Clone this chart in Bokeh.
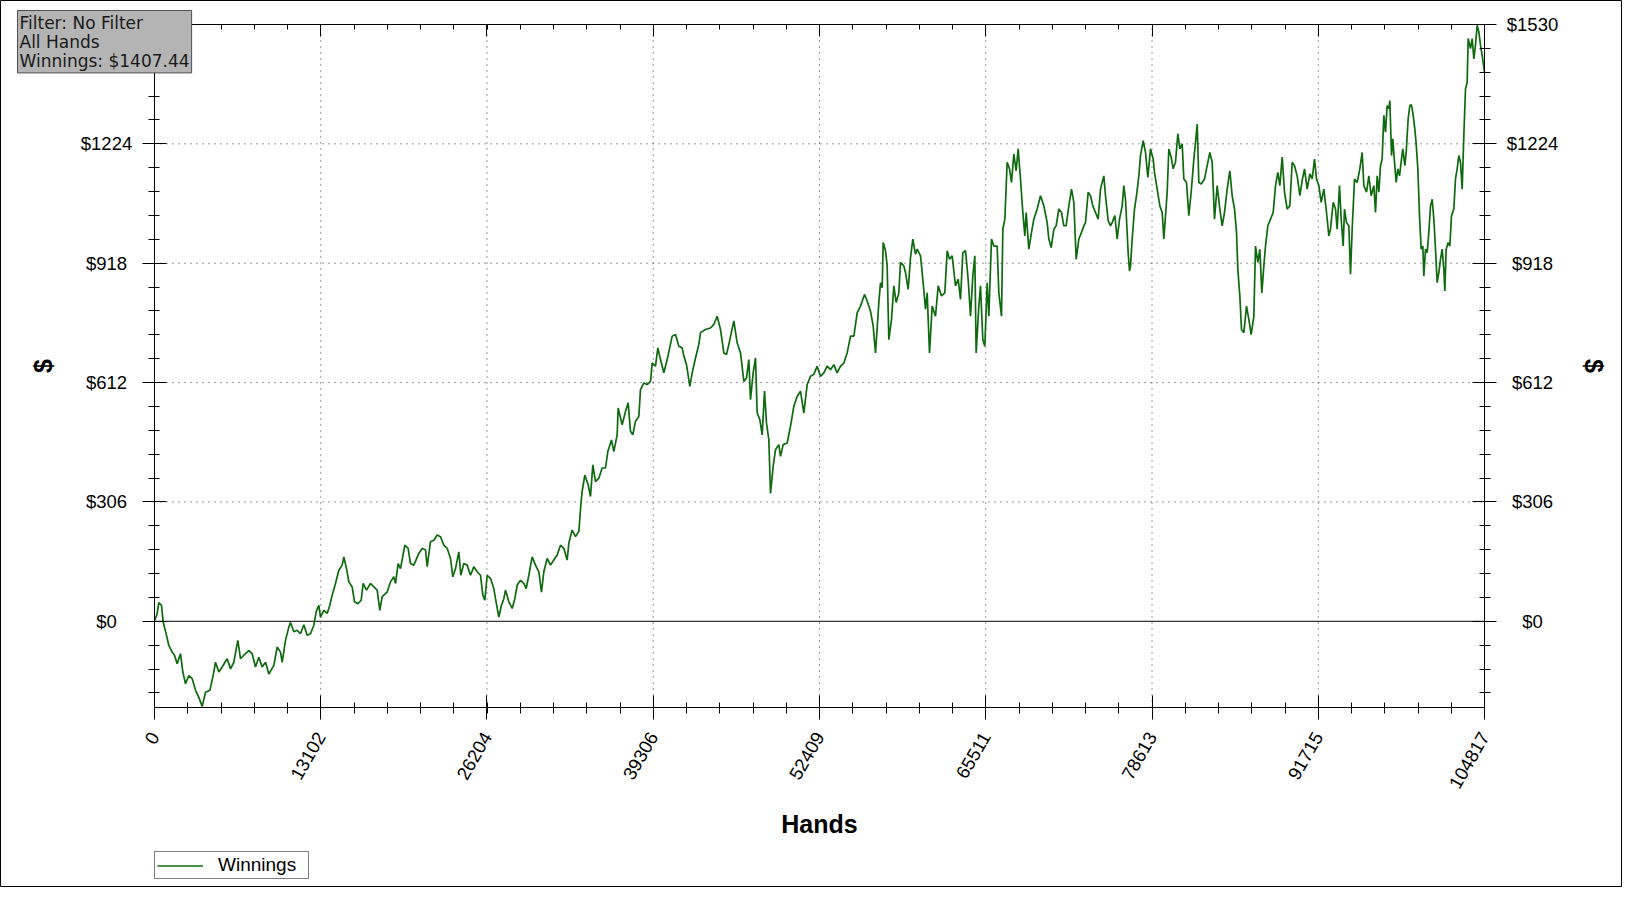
import math
from bokeh.plotting import figure
from bokeh.models import Range1d, LinearAxis, FixedTicker, Label, Legend, LegendItem
from bokeh.embed import file_html
from bokeh.resources import INLINE

# ---------------- data (hands, cumulative winnings $) ----------------
seg1 = [(0, 0), (210, 20), (342, 48), (552, 41), (683, -2), (946, -36), (1130, -62), (1392, -79),
        (1576, -87), (1786, -109), (2049, -83), (2233, -130), (2443, -160), (2706, -139), (2969, -147),
        (3231, -177), (3494, -195), (3757, -218), (4019, -182), (4361, -177), (4624, -139), (4807, -105),
        (5070, -130), (5333, -117), (5727, -96), (5990, -122), (6252, -105), (6568, -49), (6778, -96),
        (7040, -87), (7434, -75), (7697, -83), (7960, -117), (8223, -92), (8485, -117), (8748, -105),
        (9011, -135), (9405, -113), (9667, -66), (9930, -79), (10061, -105), (10324, -49), (10587, -15),
        (10718, -3), (10981, -27), (11244, -23), (11506, -32), (11769, -9), (12032, -36), (12294, -32),
        (12557, -10), (12741, 24), (12951, 41), (13082, 11), (13345, 28), (13608, 20), (13818, 41),
        (14002, 67), (14265, 97), (14527, 131), (14790, 144), (14921, 165), (15132, 135), (15316, 101),
        (15578, 88), (15762, 50), (16025, 45), (16287, 54), (16445, 97), (16708, 80), (17023, 97),
        (17286, 88), (17548, 80), (17759, 28), (17943, 63), (18337, 75), (18599, 101), (18862, 114)]
seg2 = [(18993, 97), (19203, 148), (19387, 135), (19729, 195), (19991, 187), (20175, 148), (20438, 144),
        (20832, 174), (21095, 187), (21357, 183), (21489, 140), (21751, 204), (22014, 208), (22277, 221),
        (22539, 217), (22802, 195), (23065, 187), (23328, 161), (23511, 114), (23722, 135), (23984, 178),
        (24142, 118), (24378, 148), (24641, 144), (24904, 118), (25166, 140), (25429, 127), (25692, 118),
        (25876, 67), (26033, 54), (26217, 118), (26480, 110), (26743, 84), (26874, 58), (27137, 11),
        (27347, 41), (27531, 58), (27662, 80), (27925, 50), (28188, 33), (28398, 58), (28582, 93),
        (28844, 105), (29107, 97), (29291, 84), (29501, 118), (29764, 165), (30027, 144), (30289, 127),
        (30499, 75), (30683, 127), (30946, 161), (31209, 144), (31471, 157), (31734, 170), (31997, 195),
        (32259, 187), (32522, 157), (32653, 200), (32916, 234), (33179, 217), (33442, 230), (33599, 298),
        (33704, 333), (33914, 375), (34177, 350), (34361, 320), (34545, 401), (34755, 358), (35018, 367),
        (35280, 393), (35543, 393), (35727, 435), (36016, 465), (36199, 435), (36462, 478), (36541, 547),
        (36856, 504), (37119, 538), (37329, 560), (37513, 487), (37697, 478), (37907, 513), (38170, 525)]
seg3 = [(38302, 594), (38565, 611), (38827, 607), (39090, 615), (39221, 662), (39484, 654), (39668, 701),
        (39878, 671), (40141, 637), (40404, 671), (40798, 731), (41060, 735), (41323, 705), (41586, 701),
        (41717, 680), (41927, 658), (42190, 602), (42374, 637), (42637, 675), (42899, 710), (43031, 740),
        (43425, 748), (43819, 752), (44081, 761), (44344, 782), (44607, 748), (44870, 688), (45080, 684),
        (45264, 710), (45658, 770), (45920, 714), (46183, 688), (46446, 615), (46656, 624), (46840, 671),
        (46971, 568), (47181, 637), (47365, 675), (47497, 534), (47707, 517), (47891, 478), (48075, 590),
        (48232, 508), (48416, 465), (48547, 328), (48757, 397), (48941, 440), (49204, 453), (49335, 423),
        (49545, 453), (49861, 457), (50124, 500), (50386, 551), (50649, 577), (50912, 590), (51174, 534),
        (51437, 607), (51700, 628), (51962, 633), (52225, 654), (52488, 628), (52751, 637), (53013, 654),
        (53276, 645), (53539, 658), (53801, 637), (54064, 654), (54327, 662), (54589, 688), (54852, 731),
        (55115, 731), (55377, 791), (55640, 808), (55955, 838), (56166, 821), (56428, 795), (56638, 757),
        (56822, 688), (57085, 817), (57216, 868), (57348, 855), (57427, 971)]
seg4 = [(57610, 950), (57741, 911), (57873, 722), (58083, 774), (58267, 860), (58451, 817), (58661, 842),
        (58792, 920), (59055, 911), (59186, 894), (59396, 851), (59580, 932), (59764, 980), (59974, 941),
        (60106, 954), (60368, 937), (60552, 877), (60762, 800), (60894, 842), (61078, 688), (61288, 808),
        (61551, 782), (61761, 860), (62023, 834), (62286, 842), (62470, 950), (62654, 928), (62864, 937),
        (63127, 860), (63337, 877), (63521, 825), (63705, 945), (63915, 950), (64125, 877), (64309, 782),
        (64493, 885), (64650, 937), (64755, 688), (64966, 808), (65097, 860), (65281, 722), (65438, 705),
        (65622, 868), (65754, 782), (65964, 980), (66148, 962), (66410, 962), (66542, 842), (66752, 782),
        (66857, 1005), (67015, 1031), (67199, 1177), (67382, 1160), (67540, 1125), (67724, 1198),
        (67908, 1155), (68065, 1211), (68249, 1134), (68433, 1048), (68591, 988), (68696, 1048),
        (68906, 954), (69116, 997), (69300, 1031), (69563, 1057), (69826, 1091), (70088, 1065),
        (70351, 1022), (70482, 980), (70666, 958), (70876, 1005), (71060, 1014), (71270, 1057),
        (71481, 1048), (71664, 1014), (71848, 1014), (72059, 1065), (72269, 1108), (72453, 1074),
        (72637, 928), (72847, 980), (73057, 997), (73241, 1014), (73372, 1022), (73582, 1100),
        (73766, 1091), (73950, 1065), (74160, 1048), (74370, 1031), (74554, 1108), (74817, 1142),
        (74948, 1091), (75158, 1027), (75342, 1014), (75474, 1022), (75684, 1040), (75868, 980),
        (76052, 1031), (76262, 1065), (76393, 1117), (76524, 1082), (76734, 945), (76840, 898)]
seg5 = [(76919, 911), (77050, 980), (77234, 1057), (77392, 1091), (77576, 1142), (77707, 1194),
        (77917, 1232), (78101, 1202), (78285, 1138), (78495, 1211), (78705, 1185), (78810, 1151),
        (79021, 1108), (79231, 1065), (79415, 1048), (79546, 980), (79677, 1040), (79809, 1100),
        (79940, 1211), (80124, 1190), (80282, 1160), (80465, 1177), (80649, 1250), (80807, 1211),
        (80991, 1224), (81122, 1134), (81332, 1125), (81516, 1040), (81700, 1100), (81910, 1185),
        (82042, 1228), (82173, 1275), (82304, 1125), (82488, 1121), (82751, 1134), (82961, 1168),
        (83171, 1202), (83355, 1177), (83539, 1031), (83749, 1117), (83959, 1057), (84143, 1014),
        (84327, 1048), (84537, 1108), (84747, 1155), (84931, 1091), (85115, 1057), (85273, 997),
        (85378, 902), (85535, 834), (85667, 748), (85851, 740), (86061, 808), (86245, 774), (86429, 735),
        (86639, 782), (86770, 962), (86954, 920), (87112, 954), (87269, 842), (87427, 911), (87558, 962),
        (87742, 1014), (87953, 1031), (88163, 1048), (88347, 1117), (88530, 1151), (88688, 1117),
        (88872, 1190), (89056, 1100), (89266, 1057), (89476, 1065), (89660, 1177), (89844, 1168),
        (90054, 1142), (90265, 1091), (90449, 1130), (90632, 1160), (90843, 1108), (91053, 1147),
        (91237, 1134), (91421, 1185), (91578, 1134), (91762, 1117), (91946, 1074), (92156, 1108),
        (92366, 1048), (92550, 988), (92681, 1005), (92891, 1074), (93075, 1057), (93206, 1005),
        (93390, 1117), (93522, 1031), (93679, 962), (93784, 1057), (93942, 1022), (94126, 1014),
        (94257, 890), (94388, 1005), (94572, 1134), (94782, 1125), (94993, 1160), (95177, 1202),
        (95308, 1117), (95518, 1100), (95703, 1142), (95886, 1091), (96097, 1117)]
seg6 = [(96227, 1048), (96358, 1142), (96490, 1100), (96621, 1168), (96752, 1185), (96884, 1297),
        (97015, 1254), (97146, 1322), (97278, 1314), (97357, 1335), (97488, 1194), (97593, 1237),
        (97724, 1177), (97856, 1125), (97987, 1160), (98118, 1142), (98276, 1185), (98381, 1211),
        (98539, 1168), (98644, 1202), (98801, 1288), (98933, 1322), (99064, 1324), (99196, 1297),
        (99327, 1262), (99432, 1224), (99563, 1160), (99695, 1040), (99826, 954), (99957, 962),
        (100036, 885), (100168, 954), (100299, 945), (100430, 997), (100562, 1065), (100693, 1082),
        (100824, 1031), (100956, 954), (101087, 868), (101218, 894), (101350, 928), (101481, 954),
        (101612, 902), (101691, 847), (101796, 954), (101954, 971), (102085, 962), (102217, 1040),
        (102400, 1057), (102532, 1134), (102663, 1160), (102794, 1194), (102926, 1177), (103057, 1108),
        (103188, 1245), (103320, 1365), (103451, 1382), (103530, 1494), (103714, 1468), (103845, 1494),
        (103976, 1442), (104108, 1477), (104239, 1528), (104371, 1511), (104502, 1477), (104633, 1451),
        (104764, 1421), (104817, 1407.44)]

x_ticks = [0, 13102, 26204, 39306, 52409, 65511, 78613, 91715, 104817]
x_tick_labels = ["0", "13102", "26204", "39306", "52409", "65511", "78613", "91715", "104817"]
y_ticks = [0, 306, 612, 918, 1224, 1530]
y_tick_labels = ["$0", "$306", "$612", "$918", "$1224", "$1530"]
info_lines = ["Filter: No Filter", "All Hands", "Winnings: $1407.44"]
series_name = "Winnings"
x_title = "Hands"
y_title = "$"

points = seg1 + seg2 + seg3 + seg4 + seg5 + seg6
hands = [h for h, _ in points]
winnings = [w for _, w in points]

# ---------------- layout constants (canvas pixels) ----------------
W, H = 1622, 887
FL, FR, FT, FB = 154, 1484, 24, 707      # plot area inside the canvas
FONT = "Liberation Sans"
GREEN = "#0f6a0f"
GRID = "#333333"
x_lo, x_hi = 0, 104817
y_lo, y_hi = -221, 1530

sx = (x_hi - x_lo) / (FR - FL)
sy = (y_hi - y_lo) / (FB - FT)
p = figure(width=W, height=H, output_backend="svg", toolbar_location=None,
           x_range=Range1d(x_lo - FL * sx, x_hi + (W - FR) * sx),
           y_range=Range1d(y_lo - (H - FB) * sy, y_hi + FT * sy),
           x_axis_type=None, y_axis_type=None,
           min_border=0, min_border_left=0, min_border_right=0, min_border_top=0, min_border_bottom=0)
p.outline_line_color = "black"
p.outline_line_width = 1
p.background_fill_color = "white"
p.border_fill_color = "white"
p.xgrid.visible = False
p.ygrid.visible = False

# minor tick positions (5 per major)
nx = len(x_ticks) - 1
x_minor = [x_ticks[0] + (x_ticks[-1] - x_ticks[0]) * i / (nx * 5) for i in range(nx * 5 + 1)]
y_step = (y_ticks[1] - y_ticks[0]) / 5
y_minor = []
k = math.ceil(y_lo / y_step)
while k * y_step <= y_hi + 1e-6:
    y_minor.append(k * y_step)
    k += 1


def tick_axis(side, loc, bounds, ticks, t_in, t_out):
    """Axis line + one size of tick marks, no labels."""
    ax = LinearAxis(ticker=FixedTicker(ticks=[], minor_ticks=ticks), fixed_location=loc, bounds=bounds,
                    axis_line_color="black", minor_tick_line_color="black",
                    minor_tick_in=t_in, minor_tick_out=t_out, major_tick_line_color=None)
    p.add_layout(ax, side)


# bottom axis with labels
xb = LinearAxis(ticker=FixedTicker(ticks=x_ticks, minor_ticks=x_minor), fixed_location=y_lo,
                bounds=(x_lo, x_hi),
                major_label_overrides={v: t for v, t in zip(x_ticks, x_tick_labels)},
                major_label_orientation=math.pi / 3, major_label_standoff=14,
                major_label_text_font=FONT, major_label_text_font_size="18.5px",
                major_label_text_color="black", axis_line_color="black",
                major_tick_line_color="black", minor_tick_line_color="black",
                major_tick_in=12, major_tick_out=12, minor_tick_in=5, minor_tick_out=6)
p.add_layout(xb, "below")

tick_axis("above", y_hi, (x_lo, x_hi), x_ticks, 12, 0)
tick_axis("above", y_hi, (x_lo, x_hi), x_minor, 5, 0)
tick_axis("left", x_lo, (y_lo, y_hi), y_ticks, 12, 12)
tick_axis("left", x_lo, (y_lo, y_hi), y_minor, 5, 6)
tick_axis("right", x_hi, (y_lo, y_hi), y_ticks, 12, 12)
tick_axis("right", x_hi, (y_lo, y_hi), y_minor, 5, 6)

# dotted grid lines and the solid zero line
gx = x_ticks[1:-1]
p.segment(x0=gx, y0=[y_lo] * len(gx), x1=gx, y1=[y_hi] * len(gx),
          line_color=GRID, line_dash="1 5", line_width=1)
gy = y_ticks[1:-1]
p.segment(x0=[x_lo] * len(gy), y0=gy, x1=[x_hi] * len(gy), y1=gy,
          line_color=GRID, line_dash="1 5", line_width=1)
p.segment(x0=[x_lo], y0=[0], x1=[x_hi], y1=[0], line_color="black", line_width=1)

# y tick labels, centred, on both sides
for v, t in zip(y_ticks, y_tick_labels):
    for cx in (FL - 48, FR + 48):
        p.add_layout(Label(x=cx, x_units="screen", y=v, y_units="data", text=t,
                           text_align="center", text_baseline="middle",
                           text_font=FONT, text_font_size="18.5px", text_color="black"))

# axis titles
mid_y = H - (FT + FB) / 2
for cx, ang in ((42, math.pi / 2), (1593, -math.pi / 2)):
    p.add_layout(Label(x=cx, x_units="screen", y=mid_y, y_units="screen", text=y_title,
                       angle=ang, text_align="center", text_baseline="middle",
                       text_font=FONT, text_font_style="bold", text_font_size="25px",
                       text_color="black"))
p.add_layout(Label(x=(FL + FR) / 2, x_units="screen", y=H - 823, y_units="screen", text=x_title,
                   text_align="center", text_baseline="middle", text_font=FONT,
                   text_font_style="bold", text_font_size="25px", text_color="black"))

# info box (top-left)
p.add_layout(Label(x=17, x_units="screen", y=H - 10, y_units="screen",
                   text="\n".join(info_lines), text_align="left", text_baseline="top",
                   text_font="DejaVu Sans", text_font_size="17px", text_color="#1a1a1a",
                   text_line_height=0.96, padding=2,
                   background_fill_color="#b4b4b4", border_line_color="#505050",
                   border_line_width=1))

# data line
r = p.line(hands, winnings, line_color=GREEN, line_width=1.7)

legend = Legend(items=[LegendItem(label=series_name, renderers=[r])], location=(FL, H - 879),
                border_line_color="black", border_line_width=1, background_fill_color="white",
                background_fill_alpha=1.0, padding=2, margin=0, spacing=0,
                glyph_width=46, glyph_height=17, label_height=17, label_width=88, label_standoff=15,
                label_text_font=FONT, label_text_font_size="19px", label_text_color="black")
p.add_layout(legend, "center")

open("out.html", "w").write(file_html(p, INLINE))
